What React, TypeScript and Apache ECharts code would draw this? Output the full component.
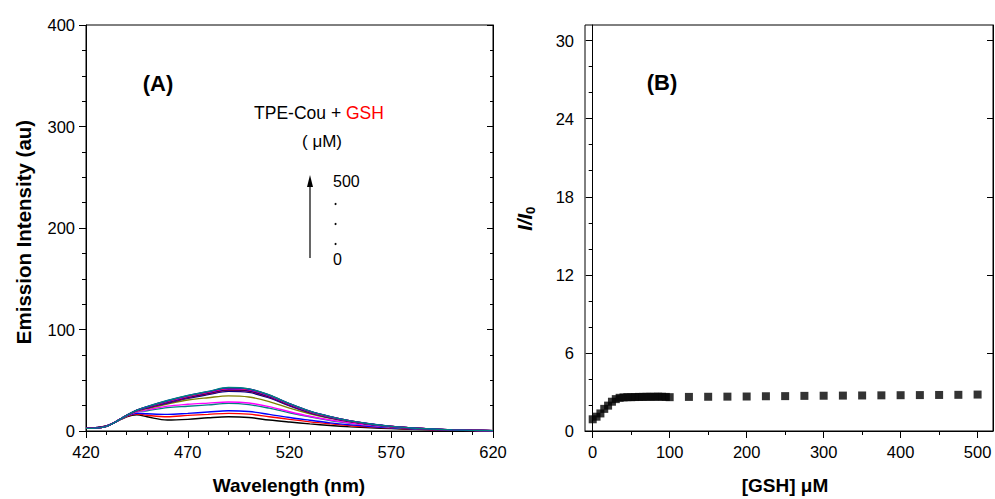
import React, { useEffect, useRef } from "react";
import * as echarts from "echarts";

const FONT = "'Liberation Sans', Arial, sans-serif";

// Panel A: emission spectra
const wavelengths = [420, 430, 440, 445, 450, 460, 470, 480, 490, 500, 510, 520, 530, 540, 550, 560, 570, 580, 590, 600, 610, 620];
const spec0 = [2.8, 5.0, 14.0, 16.0, 14.0, 10.8, 11.5, 13.0, 14.0, 13.3, 10.8, 8.8, 7.0, 5.4, 4.1, 3.1, 2.3, 1.7, 1.1, 0.7, 0.4, 0.3];
const spec1 = [2.8, 5.0, 14.5, 16.8, 15.5, 14.1, 15.4, 16.4, 17.4, 16.6, 14.1, 11.4, 9.0, 7.0, 5.2, 3.9, 2.8, 2.0, 1.3, 0.8, 0.5, 0.3];
const spec2 = [2.8, 5.0, 14.8, 17.5, 17.0, 16.4, 17.4, 18.7, 20.0, 19.2, 16.4, 13.3, 10.6, 8.0, 6.0, 4.4, 3.1, 2.2, 1.4, 0.9, 0.5, 0.3];
const spec3 = [2.7, 4.8, 15.0, 18.8, 20.0, 23.0, 24.4, 25.7, 27.2, 26.0, 22.5, 18.0, 14.0, 10.4, 7.6, 5.3, 3.6, 2.5, 1.6, 1.0, 0.6, 0.3];
const spec4 = [2.7, 4.8, 15.0, 19.0, 20.8, 24.5, 26.3, 27.5, 28.6, 27.6, 24.0, 19.0, 14.5, 10.8, 7.8, 5.5, 3.8, 2.6, 1.7, 1.0, 0.6, 0.3];
const spec5 = [2.7, 4.7, 15.2, 19.6, 22.0, 26.5, 30.5, 32.8, 34.6, 33.5, 29.0, 22.5, 17.0, 12.5, 9.0, 6.3, 4.2, 2.8, 1.8, 1.0, 0.6, 0.3];
const spec6 = [2.6, 4.7, 15.3, 20.0, 22.7, 27.5, 32.2, 35.8, 39.0, 38.0, 32.6, 24.8, 18.0, 13.1, 9.3, 6.4, 4.3, 2.8, 1.8, 1.0, 0.6, 0.3];
const spec7 = [2.6, 4.7, 15.4, 20.2, 23.0, 28.0, 32.8, 36.6, 40.0, 39.0, 33.3, 25.3, 18.3, 13.3, 9.4, 6.5, 4.4, 2.9, 1.8, 1.1, 0.6, 0.3];
const spec8 = [2.6, 4.7, 15.4, 20.3, 23.3, 28.5, 33.3, 37.1, 40.6, 39.5, 33.8, 25.7, 18.6, 13.5, 9.5, 6.6, 4.4, 2.9, 1.8, 1.1, 0.6, 0.3];
const spec9 = [2.6, 4.7, 15.4, 20.3, 23.4, 28.8, 33.7, 37.6, 41.1, 40.0, 34.2, 26.0, 18.8, 13.7, 9.6, 6.6, 4.5, 2.9, 1.8, 1.1, 0.6, 0.3];
const spec10 = [2.6, 4.6, 15.5, 20.4, 23.6, 29.1, 34.0, 38.0, 41.5, 40.5, 34.6, 26.3, 19.0, 13.8, 9.7, 6.7, 4.5, 3.0, 1.9, 1.1, 0.6, 0.3];
const spec11 = [2.6, 4.6, 15.5, 20.4, 23.7, 29.4, 34.3, 38.3, 41.9, 40.9, 35.0, 26.6, 19.2, 14.0, 9.8, 6.8, 4.5, 3.0, 1.9, 1.1, 0.6, 0.3];
const spec12 = [2.6, 4.6, 15.5, 20.5, 23.8, 29.6, 34.6, 38.6, 42.2, 41.2, 35.2, 26.8, 19.4, 14.1, 9.9, 6.8, 4.6, 3.0, 1.9, 1.1, 0.6, 0.3];
const spec13 = [2.6, 4.6, 15.5, 20.5, 23.9, 29.8, 34.8, 38.8, 42.5, 41.4, 35.4, 26.9, 19.5, 14.2, 10.0, 6.9, 4.6, 3.0, 1.9, 1.1, 0.6, 0.3];
const spec14 = [2.6, 4.6, 15.5, 20.5, 24.0, 30.0, 35.0, 39.0, 42.8, 41.5, 35.5, 27.0, 19.5, 14.2, 10.0, 6.9, 4.6, 3.0, 1.9, 1.1, 0.6, 0.3];
const spectra = [spec0, spec1, spec2, spec3, spec4, spec5, spec6, spec7, spec8, spec9, spec10, spec11, spec12, spec13, spec14];
const specColors = ["#000000", "#FF0000", "#0000FF", "#008080", "#FF00FF", "#808000", "#000080", "#800080", "#800000", "#0000A0", "#8000FF", "#FF0080", "#FF0000", "#0000FF", "#008080"];

// Panel B: I/I0 vs [GSH]
const gshConc = [0, 5, 10, 15, 20, 25, 30, 35, 40, 45, 50, 55, 60, 65, 70, 75, 80, 85, 90, 95, 100, 125, 150, 175, 200, 225, 250, 275, 300, 325, 350, 375, 400, 425, 450, 475, 500];
const ratio = [0.9, 1.1, 1.35, 1.7, 1.95, 2.25, 2.45, 2.55, 2.58, 2.6, 2.6, 2.61, 2.62, 2.62, 2.63, 2.63, 2.63, 2.64, 2.63, 2.62, 2.6, 2.62, 2.63, 2.64, 2.65, 2.67, 2.68, 2.7, 2.71, 2.72, 2.73, 2.74, 2.75, 2.76, 2.77, 2.78, 2.8];

const aYTicks = [0, 100, 200, 300, 400];
const bXTicks = [0, 100, 200, 300, 400, 500];
const bXMinor = [50, 150, 250, 350, 450];
const bYTicks = [0, 6, 12, 18, 24, 30];
const bYMinor = [2, 4, 8, 10, 14, 16, 20, 22, 26, 28];

const labelStyle = { color: "#000", fontFamily: FONT, fontSize: 16.5 };
const lineStyle = { color: "#000", width: 1 };

export default function App() {
  const ref = useRef<HTMLDivElement>(null);
  useEffect(() => {
    if (!ref.current) return;
    const chart = echarts.init(ref.current, undefined, { renderer: "svg" });
    const aSeries = spectra.map((s, k) => ({
      type: "line",
      xAxisIndex: 0,
      yAxisIndex: 0,
      data: wavelengths.map((w, i) => [w, s[i]]),
      smooth: 0.35,
      showSymbol: false,
      lineStyle: { color: specColors[k], width: 1.4 },
      itemStyle: { color: specColors[k] },
    }));
    chart.setOption({
      animation: false,
      backgroundColor: "#fff",
      grid: [
        { left: 86, top: 25, width: 407, height: 406, show: true, borderColor: "#000", borderWidth: 1, backgroundColor: "transparent" },
        { left: 585, top: 25, width: 408, height: 406, show: true, borderColor: "#000", borderWidth: 1, backgroundColor: "transparent" },
      ],
      xAxis: [
        {
          type: "value", gridIndex: 0, min: 420, max: 620, interval: 50,
          axisLine: { lineStyle }, splitLine: { show: false },
          axisTick: { length: 7, lineStyle },
          minorTick: { show: true, splitNumber: 5, length: 4, lineStyle },
          axisLabel: { ...labelStyle, margin: 12 },
        },
        {
          type: "value", gridIndex: 1, min: -10, max: 520,
          axisLine: { lineStyle }, splitLine: { show: false },
          axisTick: { length: 7, lineStyle, customValues: bXTicks },
          axisLabel: { ...labelStyle, margin: 12, customValues: bXTicks },
        },
        {
          type: "value", gridIndex: 1, min: -10, max: 520, position: "bottom",
          axisLine: { show: false }, splitLine: { show: false },
          axisTick: { length: 4, lineStyle, customValues: bXMinor },
          axisLabel: { show: false, customValues: bXMinor },
        },
      ],
      yAxis: [
        {
          type: "value", gridIndex: 0, min: 0, max: 400, interval: 100, position: "left",
          axisLine: { lineStyle }, splitLine: { show: false },
          axisTick: { length: 7, lineStyle },
          minorTick: { show: true, splitNumber: 4, length: 4, lineStyle },
          axisLabel: { ...labelStyle, margin: 11, customValues: aYTicks },
        },
        {
          type: "value", gridIndex: 0, min: 0, max: 400, interval: 100, position: "right",
          axisLine: { lineStyle }, splitLine: { show: false },
          axisTick: { inside: true, length: 6, lineStyle },
          minorTick: { show: true, splitNumber: 4, length: 3, lineStyle },
          axisLabel: { show: false },
        },
        {
          type: "value", gridIndex: 1, min: 0, max: 31.2, position: "left",
          axisLine: { lineStyle }, splitLine: { show: false },
          axisTick: { length: 7, lineStyle, customValues: bYTicks },
          axisLabel: { ...labelStyle, margin: 11, customValues: bYTicks },
        },
        {
          type: "value", gridIndex: 1, min: 0, max: 31.2, position: "left",
          axisLine: { show: false }, splitLine: { show: false },
          axisTick: { length: 4, lineStyle, customValues: bYMinor },
          axisLabel: { show: false, customValues: bYMinor },
        },
        {
          type: "value", gridIndex: 1, min: 0, max: 31.2, position: "right",
          axisLine: { lineStyle }, splitLine: { show: false },
          axisTick: { inside: true, length: 6, lineStyle, customValues: bYTicks },
          axisLabel: { show: false, customValues: bYTicks },
        },
      ],
      series: [
        ...aSeries,
        {
          type: "scatter",
          xAxisIndex: 1,
          yAxisIndex: 2,
          symbol: "rect",
          symbolSize: 8,
          itemStyle: { color: "#000" },
          data: gshConc.map((c, i) => [c, ratio[i]]),
        },
      ],
      graphic: [
        { type: "text", x: 158, y: 83, style: { text: "(A)", font: `bold 22px ${FONT}`, fill: "#000", align: "center", verticalAlign: "middle" } },
        { type: "text", x: 662, y: 82, style: { text: "(B)", font: `bold 22px ${FONT}`, fill: "#000", align: "center", verticalAlign: "middle" } },
        {
          type: "text", x: 319, y: 113,
          style: {
            text: "{a|TPE-Cou + }{b|GSH}", align: "center", verticalAlign: "middle",
            rich: {
              a: { fontFamily: FONT, fontSize: 17.5, fill: "#000", color: "#000" },
              b: { fontFamily: FONT, fontSize: 17.5, fill: "#FF0000", color: "#FF0000" },
            },
          },
        },
        { type: "text", x: 322, y: 141, style: { text: "( μM)", font: `17px ${FONT}`, fill: "#000", align: "center", verticalAlign: "middle" } },
        { type: "line", shape: { x1: 310, y1: 258, x2: 310, y2: 184 }, style: { stroke: "#000", lineWidth: 1.2 } },
        { type: "polygon", shape: { points: [[310, 175], [307, 187], [313, 187]] }, style: { fill: "#000" } },
        { type: "text", x: 333, y: 181, style: { text: "500", font: `16px ${FONT}`, fill: "#000", align: "left", verticalAlign: "middle" } },
        { type: "circle", shape: { cx: 335.5, cy: 204, r: 1 }, style: { fill: "#000" } },
        { type: "circle", shape: { cx: 335.5, cy: 224, r: 1 }, style: { fill: "#000" } },
        { type: "circle", shape: { cx: 335.5, cy: 244, r: 1 }, style: { fill: "#000" } },
        { type: "text", x: 333, y: 259, style: { text: "0", font: `16px ${FONT}`, fill: "#000", align: "left", verticalAlign: "middle" } },
        { type: "text", x: 289, y: 485, style: { text: "Wavelength (nm)", font: `bold 19px ${FONT}`, fill: "#000", align: "center", verticalAlign: "middle" } },
        { type: "text", x: 785, y: 485, style: { text: "[GSH] μM", font: `bold 19px ${FONT}`, fill: "#000", align: "center", verticalAlign: "middle" } },
        { type: "text", x: 23, y: 232, rotation: Math.PI / 2, style: { text: "Emission Intensity (au)", font: `bold 20.5px ${FONT}`, fill: "#000", align: "center", verticalAlign: "middle" } },
        {
          type: "group", x: 525, y: 218, rotation: Math.PI / 2,
          children: [
            { type: "text", x: 4, y: 0, style: { text: "I/I", font: `italic bold 20px ${FONT}`, fill: "#000", align: "right", verticalAlign: "middle" } },
            { type: "text", x: 4, y: 5, style: { text: "0", font: `bold 13px ${FONT}`, fill: "#000", align: "left", verticalAlign: "middle" } },
          ],
        },
      ],
    });
    return () => chart.dispose();
  }, []);
  return (
    <div
      ref={ref}
      style={{ position: "absolute", left: 0, top: 0, width: 995, height: 499, background: "#fff" }}
    />
  );
}
